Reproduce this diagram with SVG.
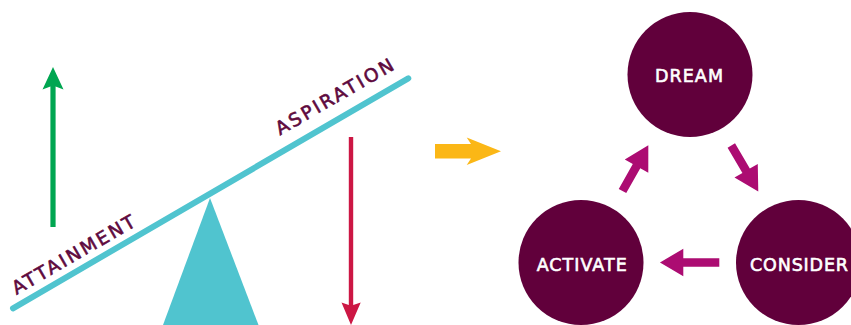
<svg xmlns="http://www.w3.org/2000/svg" width="851" height="325" viewBox="0 0 851 325">
  <style>
    .beam { stroke: #50c4cf; stroke-width: 6; stroke-linecap: round; fill: none; }
    .pivot { fill: #50c4cf; }
    .beam-label { font-family: "DejaVu Sans", "Liberation Sans", sans-serif; font-size: 18.5px; fill: #5e0a3e; stroke: #5e0a3e; stroke-width: 0.6; }
    .node circle { fill: #61003b; }
    .node text { font-family: "DejaVu Sans", "Liberation Sans", sans-serif; font-size: 17.5px; fill: #ffffff; stroke: #ffffff; stroke-width: 0.6; text-anchor: middle; }
    .cycle-arrow { fill: #ac0c72; }
  </style>

  <!-- balance: beam, pivot and labels -->
  <g id="seesaw">
    <polygon class="pivot" points="210,198 258.5,325 163,325"/>
    <line class="beam" x1="13" y1="308.3" x2="408.3" y2="78.3"/>
    <text class="beam-label" transform="translate(16.5,295) rotate(-30)" textLength="139" lengthAdjust="spacing">ATTAINMENT</text>
    <text class="beam-label" transform="translate(280,135.5) rotate(-30)" textLength="133" lengthAdjust="spacing">ASPIRATION</text>
  </g>

  <!-- up / down force arrows -->
  <g id="up-arrow">
    <polygon fill="#00a651" points="53,67 63.5,89.5 55.6,86.5 55.6,227 50.4,227 50.4,86.5 42.5,89.5"/>
  </g>
  <g id="down-arrow">
    <polygon fill="#cc1744" points="348.8,137 353.2,137 353.2,305 360.7,302.5 351,325 341.5,302.5 348.8,305"/>
  </g>

  <!-- transition arrow -->
  <g id="lead-arrow">
    <polygon fill="#fbb716" points="435,144 471,144 466.7,137.5 501,151.3 466.7,165 471,158.5 435,158.5"/>
  </g>

  <!-- cycle nodes -->
  <g id="dream" class="node">
    <circle cx="690" cy="74.5" r="62.5"/>
    <text x="689" y="81.5" textLength="68" lengthAdjust="spacing">DREAM</text>
  </g>
  <g id="activate" class="node">
    <circle cx="581" cy="262.5" r="62.5"/>
    <text x="581.7" y="270.5" textLength="90" lengthAdjust="spacing">ACTIVATE</text>
  </g>
  <g id="consider" class="node">
    <circle cx="798.5" cy="262.5" r="62.5"/>
    <text x="799" y="271" textLength="98" lengthAdjust="spacing">CONSIDER</text>
  </g>

  <!-- cycle connectors -->
  <g id="connectors" class="cycle-arrow">
    <polygon transform="translate(622.5,191) rotate(-60.6)" points="0,-4.3 28.6,-4.3 28.6,-13.5 52.6,0 28.6,13.5 28.6,4.3 0,4.3"/>
    <polygon transform="translate(731.3,145.5) rotate(59.6)" points="0,-4.3 29.3,-4.3 29.3,-13.5 53.3,0 29.3,13.5 29.3,4.3 0,4.3"/>
    <polygon transform="translate(719.3,262.5) rotate(180)" points="0,-4.2 36,-4.2 36,-13.8 59.3,0 36,13.8 36,4.2 0,4.2"/>
  </g>
</svg>
